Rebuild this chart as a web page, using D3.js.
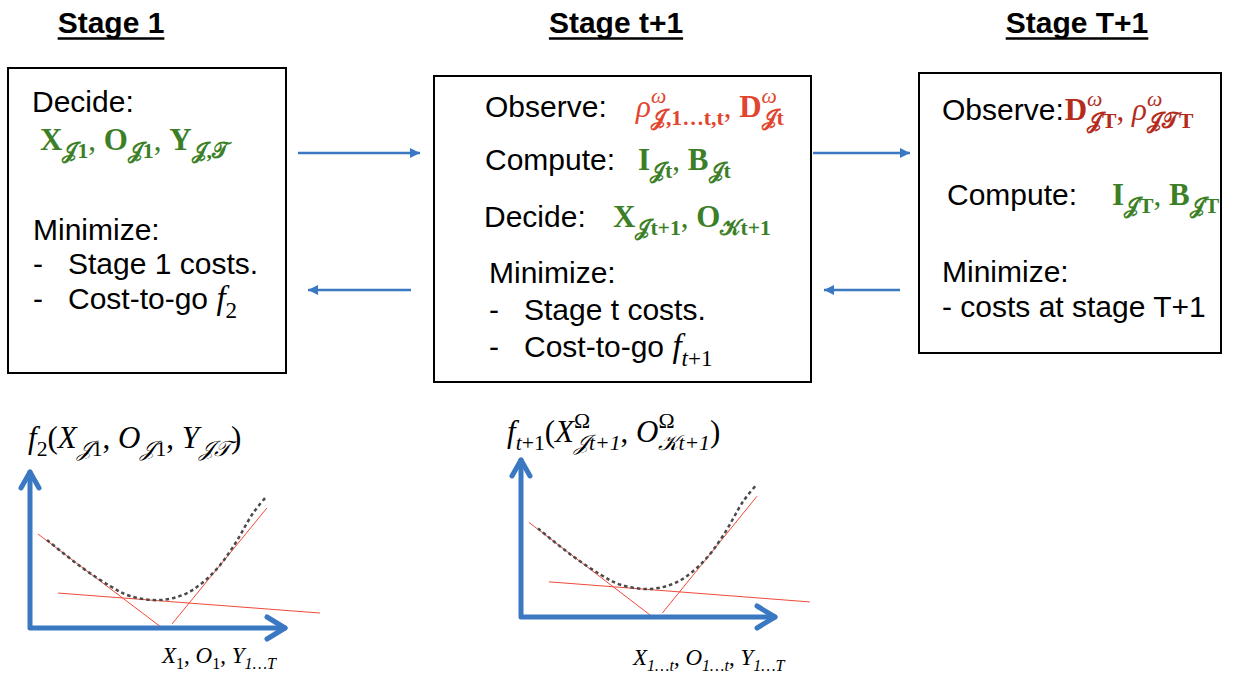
<!DOCTYPE html>
<html>
<head>
<meta charset="utf-8">
<script src="https://cdn.jsdelivr.net/npm/d3@7"></script>
<style>
  body { margin: 0; background: #fff; }
  text { white-space: pre; }
</style>
</head>
<body>
<svg id="fig"></svg>
<script>
// ---- content ----
const stages = ['Stage 1', 'Stage t+1', 'Stage T+1'];

// segments: f = b (bold serif), bi, i (italic serif), r (serif), s (sans); p = sub / sup
const decide1 = [
  { t: 'X', f: 'b' }, { t: '𝒥1', f: 'b', p: 'sub' }, { t: ', ', f: 'r' },
  { t: 'O', f: 'b' }, { t: '𝒥1', f: 'b', p: 'sub' }, { t: ', ', f: 'r' },
  { t: 'Y', f: 'b' }, { t: '𝒥,𝒯', f: 'b', p: 'sub' }
];
const observe2 = [
  { t: 'ρ', f: 'i' }, { sup: 'ω', sub: '𝒥,1…t,t' }, { t: ', ', f: 'r' },
  { t: 'D', f: 'b' }, { sup: 'ω', sub: '𝒥t' }
];
const compute2 = [
  { t: 'I', f: 'b' }, { t: '𝒥t', f: 'b', p: 'sub' }, { t: ', ', f: 'r' },
  { t: 'B', f: 'b' }, { t: '𝒥t', f: 'b', p: 'sub' }
];
const decide2 = [
  { t: 'X', f: 'b' }, { t: '𝒥t+1', f: 'b', p: 'sub' }, { t: ', ', f: 'r' },
  { t: 'O', f: 'b' }, { t: '𝒦t+1', f: 'b', p: 'sub' }
];
const observe3 = [
  { t: 'D', f: 'b' }, { sup: 'ω', sub: '𝒥T' }, { t: ', ', f: 'r' },
  { t: 'ρ', f: 'i' }, { sup: 'ω', sub: '𝒥𝒯T' }
];
const compute3 = [
  { t: 'I', f: 'b' }, { t: '𝒥T', f: 'b', p: 'sub' }, { t: ', ', f: 'r' },
  { t: 'B', f: 'b' }, { t: '𝒥T', f: 'b', p: 'sub' }
];
const f2 = [{ t: 'f', f: 'i' }, { t: '2', f: 'r', p: 'sub' }];
const ft1 = [{ t: 'f', f: 'i' }, { t: 't', f: 'i', p: 'sub' }, { t: '+1', f: 'r', p: 'sub' }];

const yLabel1 = [
  { t: 'f', f: 'i' }, { t: '2', f: 'r', p: 'sub' }, { t: '(', f: 'r' },
  { t: 'X', f: 'i' }, { t: '𝒥', f: 'i', p: 'sub' }, { t: '1', f: 'r', p: 'sub' }, { t: ', ', f: 'r' },
  { t: 'O', f: 'i' }, { t: '𝒥', f: 'i', p: 'sub' }, { t: '1', f: 'r', p: 'sub' }, { t: ', ', f: 'r' },
  { t: 'Y', f: 'i' }, { t: '𝒥𝒯', f: 'i', p: 'sub' }, { t: ')', f: 'r' }
];
const yLabel2 = [
  { t: 'f', f: 'i' }, { t: 't', f: 'i', p: 'sub' }, { t: '+1', f: 'r', p: 'sub' }, { t: '(', f: 'r' },
  { t: 'X', f: 'i' }, { sup: 'Ω', supF: 'r', sub: '𝒥t+1', subF: 'i' }, { t: ', ', f: 'r' },
  { t: 'O', f: 'i' }, { sup: 'Ω', supF: 'r', sub: '𝒦t+1', subF: 'i' }, { t: ')', f: 'r' }
];
const xLabel1 = [
  { t: 'X', f: 'i' }, { t: '1', f: 'r', p: 'sub' }, { t: ', ', f: 'r' },
  { t: 'O', f: 'i' }, { t: '1', f: 'r', p: 'sub' }, { t: ', ', f: 'r' },
  { t: 'Y', f: 'i' }, { t: '1…T', f: 'i', p: 'sub' }
];
const xLabel2 = [
  { t: 'X', f: 'i' }, { t: '1…t', f: 'i', p: 'sub' }, { t: ', ', f: 'r' },
  { t: 'O', f: 'i' }, { t: '1…t', f: 'i', p: 'sub' }, { t: ', ', f: 'r' },
  { t: 'Y', f: 'i' }, { t: '1…T', f: 'i', p: 'sub' }
];

// cost-to-go sketch (data units 0..100)
const curveX = [6.7, 19.6, 31.4, 39.2, 51, 61.6, 71.8, 79.6, 87.5, 92.2];
const curveY = [56.4, 39.7, 26.9, 20.5, 17.9, 22.4, 35.3, 51.9, 73.7, 83.3];
const cutX1 = [3.1, 11, 55.7];
const cutY1 = [60.3, 22.4, 2.6];
const cutX2 = [52.9, 113.7, 92.9];
const cutY2 = [-1.3, 9.6, 76.9];

// ---- drawing ----
const W = 1236, H = 675;
const svg = d3.select('#fig').attr('width', W).attr('height', H);
svg.append('rect').attr('width', W).attr('height', H).attr('fill', '#fff');

const SANS = "'Liberation Sans', Arial, Helvetica, sans-serif";
const SERIF = "'Liberation Serif', 'DejaVu Serif', serif";
const GREEN = '#3c7f27', RED = '#e2452f', DRED = '#b32c1c', BLUE = '#3a78c2';

const fonts = {
  s: { fam: SANS, w: 'normal', st: 'normal' },
  b: { fam: SERIF, w: 'bold', st: 'normal' },
  bi: { fam: SERIF, w: 'bold', st: 'italic' },
  i: { fam: SERIF, w: 'normal', st: 'italic' },
  r: { fam: SERIF, w: 'normal', st: 'normal' }
};

function put(g, t, f, x, y, size, color) {
  const ff = fonts[f];
  const el = g.append('text')
    .attr('xml:space', 'preserve')
    .attr('x', x).attr('y', y)
    .attr('font-family', ff.fam).attr('font-weight', ff.w).attr('font-style', ff.st)
    .attr('font-size', size).attr('fill', color)
    .text(t);
  return el.node().getComputedTextLength();
}

function drawMath(g, x, y, segs, size, color) {
  let cx = x;
  const small = size * 0.7;
  segs.forEach(s => {
    if (s.sup !== undefined) {
      const a = put(g, s.sup, s.supF || 'i', cx, y - size * 0.45, small, color);
      const b = put(g, s.sub, s.subF || 'b', cx, y + size * 0.26, small, color);
      cx += Math.max(a, b);
    } else if (s.p) {
      const dy = s.p === 'sub' ? size * 0.26 : -size * 0.45;
      cx += put(g, s.t, s.f, cx, y + dy, small, color);
    } else {
      cx += put(g, s.t, s.f, cx, y, size, color);
    }
  });
  return cx;
}

const BODY = 30;
const MATH = 31;
function label(g, t, x, y) {
  return x + put(g, t, 's', x, y, BODY, '#000');
}
function bullet(g, t, x, y) {
  put(g, '-', 's', x, y, BODY, '#000');
  return label(g, t, x + 35, y);
}

// stage titles
const titleX = [111, 616, 1077];
stages.forEach((s, i) => {
  const g = svg.append('g');
  put(g, s, 's', titleX[i], 33, 30, '#000');
  const t = g.select('text').attr('font-weight', 'bold').attr('text-anchor', 'middle');
  const ww = t.node().getComputedTextLength();
  g.append('line')
    .attr('x1', titleX[i] - ww / 2).attr('x2', titleX[i] + ww / 2)
    .attr('y1', 38.5).attr('y2', 38.5)
    .attr('stroke', '#000').attr('stroke-width', 2.5);
});

// boxes
const boxes = [
  { x: 8, y: 68, w: 278, h: 305 },
  { x: 434, y: 76, w: 377, h: 306 },
  { x: 919, y: 73, w: 302, h: 280 }
];
svg.append('g').selectAll('rect').data(boxes).join('rect')
  .attr('x', d => d.x).attr('y', d => d.y)
  .attr('width', d => d.w).attr('height', d => d.h)
  .attr('fill', 'none').attr('stroke', '#000').attr('stroke-width', 2);

// box 1
const b1 = svg.append('g');
label(b1, 'Decide:', 32, 112);
drawMath(b1, 40, 150, decide1, MATH, GREEN);
label(b1, 'Minimize:', 33, 240);
bullet(b1, 'Stage 1 costs.', 33, 274);
drawMath(b1, bullet(b1, 'Cost-to-go ', 33, 309), 309, f2, 33, '#000');

// box 2
const b2 = svg.append('g');
label(b2, 'Observe:', 485, 117);
drawMath(b2, 636, 117, observe2, MATH, RED);
label(b2, 'Compute:', 485, 170);
drawMath(b2, 638, 170, compute2, MATH, GREEN);
label(b2, 'Decide:', 484, 227);
drawMath(b2, 613, 227, decide2, MATH, GREEN);
label(b2, 'Minimize:', 489, 283);
bullet(b2, 'Stage t costs.', 489, 320);
drawMath(b2, bullet(b2, 'Cost-to-go ', 489, 357), 357, ft1, 33, '#000');

// box 3
const b3 = svg.append('g');
drawMath(b3, label(b3, 'Observe:', 942, 120) + 1, 120, observe3, MATH, DRED);
label(b3, 'Compute:', 947, 205);
drawMath(b3, 1112, 205, compute3, MATH, GREEN);
label(b3, 'Minimize:', 942, 282);
label(b3, '- costs at stage T+1', 942, 317);

// flow arrows
const defs = svg.append('defs');
defs.append('marker')
  .attr('id', 'tri').attr('viewBox', '0 0 10 10')
  .attr('refX', 10).attr('refY', 5)
  .attr('markerWidth', 11).attr('markerHeight', 10)
  .attr('markerUnits', 'userSpaceOnUse')
  .attr('orient', 'auto')
  .append('path').attr('d', 'M0,0L10,5L0,10Z').attr('fill', BLUE);

const arrows = [
  { x1: 298, x2: 420, y: 153 }, { x1: 411, x2: 308, y: 290 },
  { x1: 813, x2: 910, y: 153 }, { x1: 900, x2: 824, y: 290 }
];
svg.append('g').selectAll('line').data(arrows).join('line')
  .attr('x1', d => d.x1).attr('x2', d => d.x2)
  .attr('y1', d => d.y).attr('y2', d => d.y)
  .attr('stroke', BLUE).attr('stroke-width', 2.5)
  .attr('marker-end', 'url(#tri)');

// cost-to-go sketches
function sketch(ox, oy, w, h) {
  const x = d3.scaleLinear().domain([0, 100]).range([ox, ox + w]);
  const y = d3.scaleLinear().domain([0, 100]).range([oy, oy - h]);
  const g = svg.append('g');

  const cuts = cutX1.map((_, i) => [[cutX1[i], cutY1[i]], [cutX2[i], cutY2[i]]]);
  g.selectAll('.cut').data(cuts).join('line')
    .attr('x1', d => x(d[0][0])).attr('y1', d => y(d[0][1]))
    .attr('x2', d => x(d[1][0])).attr('y2', d => y(d[1][1]))
    .attr('stroke', '#f04a3a').attr('stroke-width', 1);

  const pts = curveX.map((v, i) => [v, curveY[i]]);
  g.append('path')
    .attr('d', d3.line().x(d => x(d[0])).y(d => y(d[1])).curve(d3.curveCatmullRom)(pts))
    .attr('fill', 'none').attr('stroke', '#4a4a4a').attr('stroke-width', 2.5)
    .attr('stroke-dasharray', '3.5,3');

  const axis = g.append('g').attr('fill', 'none').attr('stroke', BLUE)
    .attr('stroke-width', 5).attr('stroke-linecap', 'round').attr('stroke-linejoin', 'round');
  axis.append('path').attr('d', `M${x(0)},${y(0)}H${x(100)}M${x(0)},${y(0)}V${y(100)}`);
  axis.append('path').attr('d', `M${x(100) - 18},${y(0) - 11}L${x(100)},${y(0)}L${x(100) - 18},${y(0) + 11}`);
  axis.append('path').attr('d', `M${x(0) - 9},${y(100) + 16}L${x(0)},${y(100)}L${x(0) + 9},${y(100) + 16}`);
  return g;
}

sketch(30, 628, 255, 156);
drawMath(svg.append('g'), 28, 448, yLabel1, 31, '#000');
drawMath(svg.append('g'), 162, 663, xLabel1, 23, '#000');

sketch(521, 617, 254, 157);
drawMath(svg.append('g'), 507, 442, yLabel2, 31, '#000');
drawMath(svg.append('g'), 633, 665, xLabel2, 23, '#000');
</script>
</body>
</html>
